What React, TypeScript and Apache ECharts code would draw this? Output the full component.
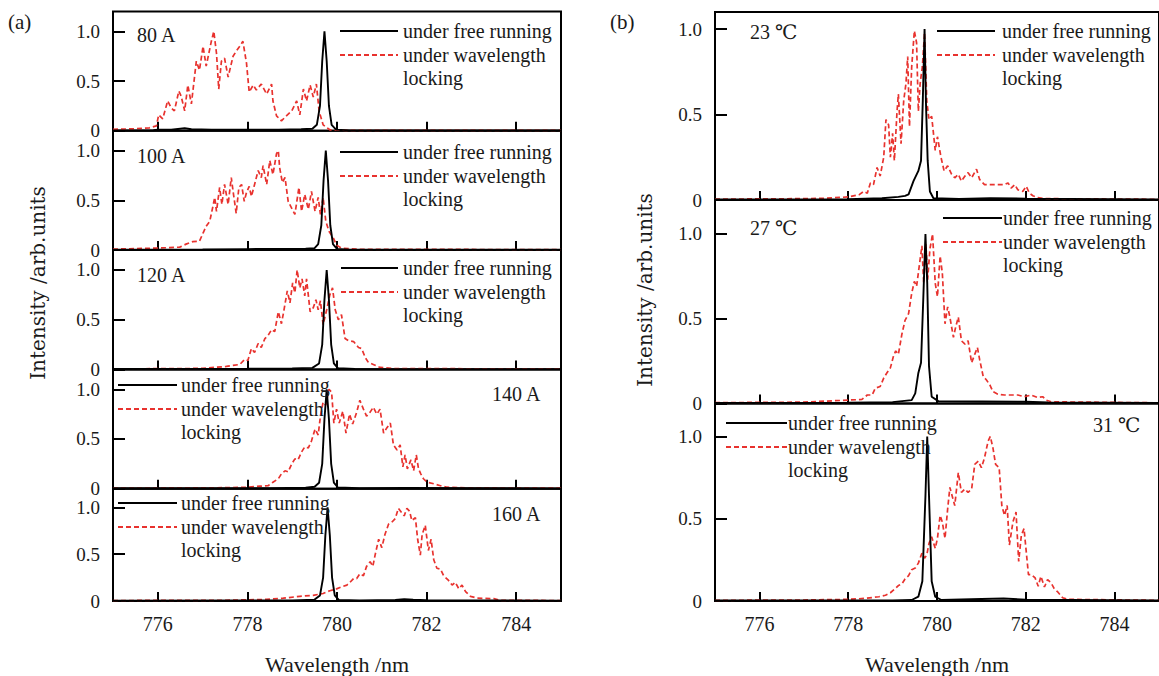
import React, { useEffect, useRef } from "react";
import * as echarts from "echarts";

// ---------- data (wavelength nm, normalised intensity) ----------
const X_TICKS = [776, 778, 780, 782, 784];
const Y_TICKS = [0, 0.5, 1];

const free80A = [[775,0.004],[775.9,0.006],[776.0,0.012],[776.3,0.01],[776.5,0.02],[776.6,0.025],[776.75,0.015],[777.2,0.01],[778.0,0.012],[778.7,0.01],[779.2,0.015],[779.45,0.02],[779.55,0.06],[779.62,0.25],[779.67,0.7],[779.72,1.0],[779.77,0.7],[779.82,0.25],[779.88,0.06],[779.98,0.012],[780.3,0.004],[785,0.003]];
const lock80A = [[775,0.015],[775.5,0.02],[775.81,0.03],[775.97,0.05],[776.02,0.16],[776.11,0.12],[776.22,0.30],[776.30,0.23],[776.37,0.20],[776.47,0.40],[776.52,0.35],[776.60,0.20],[776.67,0.46],[776.75,0.27],[776.86,0.70],[776.93,0.61],[777.01,0.85],[777.08,0.65],[777.19,0.89],[777.25,1.0],[777.31,0.78],[777.36,0.42],[777.42,0.70],[777.49,0.73],[777.57,0.54],[777.68,0.75],[777.75,0.80],[777.83,0.85],[777.90,0.90],[777.98,0.68],[778.04,0.39],[778.13,0.46],[778.20,0.41],[778.31,0.47],[778.43,0.37],[778.54,0.47],[778.57,0.30],[778.65,0.15],[778.76,0.10],[778.87,0.15],[778.99,0.20],[779.10,0.30],[779.17,0.16],[779.25,0.42],[779.32,0.30],[779.40,0.46],[779.47,0.34],[779.54,0.47],[779.60,0.20],[779.69,0.06],[779.84,0.01],[780.2,0.005],[785,0.004]];

const free100A = [[775,0.004],[777,0.006],[778,0.01],[778.6,0.012],[779.3,0.015],[779.5,0.02],[779.58,0.06],[779.65,0.25],[779.7,0.7],[779.75,1.0],[779.8,0.7],[779.85,0.25],[779.91,0.06],[780.0,0.012],[780.3,0.004],[785,0.003]];
const lock100A = [[775,0.01],[776.0,0.02],[776.49,0.03],[776.63,0.06],[776.78,0.085],[776.93,0.09],[777.01,0.17],[777.08,0.24],[777.16,0.29],[777.23,0.44],[777.27,0.53],[777.31,0.39],[777.38,0.63],[777.43,0.46],[777.49,0.66],[777.57,0.46],[777.64,0.73],[777.69,0.56],[777.75,0.37],[777.81,0.63],[777.87,0.66],[777.93,0.49],[777.98,0.58],[778.04,0.64],[778.09,0.54],[778.16,0.66],[778.24,0.80],[778.31,0.73],[778.35,0.85],[778.43,0.66],[778.50,0.90],[778.57,0.76],[778.65,0.97],[778.69,1.0],[778.72,0.83],[778.78,0.68],[778.84,0.73],[778.91,0.49],[778.99,0.42],[779.06,0.36],[779.15,0.63],[779.21,0.39],[779.28,0.56],[779.36,0.41],[779.43,0.59],[779.51,0.39],[779.58,0.53],[779.63,0.36],[779.69,0.53],[779.75,0.29],[779.82,0.19],[779.92,0.12],[779.99,0.05],[780.10,0.02],[780.5,0.008],[785,0.005]];

const free120A = [[775,0.004],[778,0.006],[779,0.01],[779.45,0.015],[779.6,0.06],[779.67,0.25],[779.72,0.7],[779.77,1.0],[779.82,0.7],[779.87,0.25],[779.93,0.06],[780.02,0.012],[780.4,0.004],[785,0.003]];
const lock120A = [[775,0.005],[777.0,0.01],[777.53,0.03],[777.68,0.04],[777.83,0.05],[777.94,0.10],[778.01,0.09],[778.09,0.21],[778.16,0.17],[778.24,0.26],[778.31,0.22],[778.39,0.31],[778.46,0.34],[778.54,0.40],[778.61,0.38],[778.69,0.58],[778.76,0.46],[778.81,0.58],[778.89,0.79],[778.95,0.67],[779.01,0.87],[779.06,0.77],[779.11,1.0],[779.17,0.82],[779.22,0.91],[779.28,0.74],[779.32,0.91],[779.40,0.58],[779.47,0.62],[779.53,0.70],[779.58,0.60],[779.63,0.69],[779.69,0.45],[779.77,0.60],[779.84,0.75],[779.90,0.82],[779.96,0.60],[780.03,0.50],[780.10,0.55],[780.18,0.31],[780.25,0.29],[780.37,0.28],[780.48,0.22],[780.55,0.21],[780.63,0.12],[780.70,0.07],[780.81,0.05],[780.96,0.02],[781.3,0.008],[785,0.005]];

const free140A = [[775,0.004],[778.5,0.006],[779.3,0.01],[779.5,0.02],[779.6,0.06],[779.67,0.25],[779.72,0.7],[779.77,1.0],[779.82,0.7],[779.87,0.25],[779.93,0.06],[780.02,0.012],[780.5,0.006],[781.5,0.008],[785,0.003]];
const lock140A = [[775,0.005],[777.5,0.01],[778.00,0.015],[778.28,0.025],[778.46,0.03],[778.57,0.065],[778.69,0.10],[778.76,0.15],[778.84,0.18],[778.91,0.17],[778.99,0.25],[779.06,0.30],[779.13,0.29],[779.21,0.37],[779.28,0.42],[779.36,0.41],[779.43,0.48],[779.51,0.60],[779.58,0.54],[779.63,0.73],[779.69,0.87],[779.75,0.84],[779.82,1.0],[779.88,0.97],[779.93,0.66],[779.99,0.80],[780.05,0.66],[780.13,0.78],[780.20,0.56],[780.28,0.75],[780.35,0.65],[780.44,0.77],[780.51,0.89],[780.59,0.80],[780.66,0.73],[780.74,0.77],[780.81,0.82],[780.89,0.75],[780.96,0.80],[781.04,0.56],[781.11,0.61],[781.19,0.66],[781.26,0.44],[781.34,0.39],[781.41,0.44],[781.47,0.22],[781.52,0.34],[781.57,0.20],[781.65,0.29],[781.71,0.18],[781.77,0.34],[781.82,0.20],[781.87,0.15],[781.93,0.10],[782.01,0.065],[782.16,0.05],[782.31,0.03],[782.46,0.015],[783,0.008],[785,0.005]];

const free160A = [[775,0.004],[779.0,0.006],[779.5,0.015],[779.62,0.06],[779.69,0.25],[779.74,0.7],[779.79,1.0],[779.84,0.7],[779.89,0.25],[779.95,0.06],[780.04,0.012],[780.5,0.006],[781.3,0.012],[781.5,0.02],[781.7,0.015],[782.0,0.008],[785,0.003]];
const lock160A = [[775,0.005],[777.5,0.008],[778.43,0.017],[778.80,0.03],[779.17,0.05],[779.47,0.06],[779.69,0.08],[779.84,0.11],[779.99,0.13],[780.10,0.15],[780.22,0.17],[780.29,0.20],[780.37,0.24],[780.44,0.24],[780.51,0.29],[780.59,0.27],[780.66,0.37],[780.74,0.42],[780.80,0.37],[780.85,0.49],[780.93,0.66],[781.00,0.57],[781.07,0.71],[781.15,0.82],[781.22,0.84],[781.30,0.88],[781.37,0.99],[781.45,0.94],[781.50,0.91],[781.56,0.99],[781.62,0.96],[781.67,0.86],[781.75,0.89],[781.80,0.66],[781.86,0.49],[781.90,0.71],[781.97,0.81],[782.04,0.54],[782.10,0.66],[782.16,0.44],[782.23,0.35],[782.31,0.34],[782.38,0.27],[782.49,0.22],[782.57,0.17],[782.64,0.20],[782.72,0.13],[782.79,0.17],[782.87,0.10],[782.98,0.05],[783.13,0.03],[783.50,0.025],[783.65,0.007],[785,0.005]];

const free23C = [[775,0.003],[778,0.005],[778.76,0.01],[779.13,0.018],[779.28,0.024],[779.36,0.033],[779.47,0.11],[779.58,0.17],[779.64,0.23],[779.68,0.58],[779.72,1.0],[779.75,0.58],[779.79,0.23],[779.84,0.05],[779.92,0.01],[780.5,0.006],[781.2,0.01],[782,0.008],[785,0.003]];
const lock23C = [[775,0.005],[777.0,0.008],[777.49,0.01],[778.00,0.018],[778.24,0.03],[778.35,0.05],[778.43,0.04],[778.50,0.10],[778.57,0.09],[778.65,0.19],[778.72,0.14],[778.80,0.25],[778.85,0.47],[778.91,0.44],[778.95,0.25],[779.00,0.39],[779.04,0.23],[779.10,0.52],[779.13,0.62],[779.19,0.33],[779.25,0.58],[779.30,0.68],[779.34,0.84],[779.38,0.43],[779.43,0.78],[779.49,0.99],[779.54,0.92],[779.58,0.52],[779.62,0.68],[779.67,0.78],[779.72,0.98],[779.77,0.58],[779.82,0.47],[779.88,0.49],[779.96,0.29],[780.01,0.37],[780.09,0.25],[780.16,0.17],[780.24,0.20],[780.33,0.15],[780.40,0.13],[780.48,0.15],[780.55,0.11],[780.63,0.14],[780.70,0.16],[780.78,0.13],[780.89,0.18],[780.96,0.12],[781.07,0.09],[781.22,0.09],[781.37,0.09],[781.52,0.09],[781.60,0.10],[781.67,0.07],[781.75,0.09],[781.82,0.06],[781.93,0.05],[782.01,0.08],[782.08,0.04],[782.16,0.025],[782.27,0.014],[782.42,0.008],[785,0.004]];

const free27C = [[775,0.003],[778,0.005],[779,0.008],[779.43,0.02],[779.51,0.06],[779.58,0.18],[779.64,0.24],[779.69,0.61],[779.74,1.0],[779.78,0.71],[779.82,0.22],[779.88,0.04],[780.03,0.014],[781,0.012],[782,0.01],[782.5,0.006],[785,0.003]];
const lock27C = [[775,0.005],[777.0,0.008],[778.00,0.02],[778.31,0.024],[778.43,0.05],[778.54,0.05],[778.61,0.09],[778.72,0.10],[778.80,0.15],[778.87,0.18],[778.95,0.21],[779.02,0.28],[779.07,0.31],[779.13,0.29],[779.21,0.41],[779.28,0.49],[779.36,0.53],[779.43,0.65],[779.49,0.72],[779.54,0.69],[779.60,0.81],[779.66,0.93],[779.70,0.71],[779.75,0.94],[779.79,0.73],[779.84,0.91],[779.90,1.0],[779.96,0.71],[780.01,0.63],[780.07,0.87],[780.12,0.77],[780.18,0.47],[780.24,0.57],[780.29,0.51],[780.37,0.39],[780.42,0.45],[780.48,0.51],[780.55,0.37],[780.63,0.35],[780.70,0.37],[780.78,0.24],[780.85,0.29],[780.91,0.33],[780.96,0.26],[781.04,0.16],[781.11,0.14],[781.19,0.11],[781.26,0.07],[781.37,0.055],[781.52,0.05],[781.67,0.05],[781.82,0.05],[781.97,0.04],[782.12,0.05],[782.27,0.035],[782.38,0.04],[782.46,0.02],[782.57,0.01],[785,0.004]];

const free31C = [[775,0.003],[779,0.004],[779.43,0.006],[779.58,0.026],[779.67,0.12],[779.74,0.64],[779.78,1.0],[779.82,0.64],[779.88,0.12],[779.96,0.026],[780.1,0.006],[781,0.012],[781.5,0.015],[782,0.008],[785,0.003]];
const lock31C = [[775,0.004],[777.0,0.006],[778.00,0.01],[778.39,0.016],[778.69,0.026],[778.84,0.035],[778.95,0.05],[779.06,0.075],[779.13,0.094],[779.21,0.104],[779.28,0.134],[779.36,0.154],[779.43,0.19],[779.51,0.20],[779.58,0.23],[779.66,0.29],[779.72,0.26],[779.77,0.28],[779.82,0.35],[779.88,0.39],[779.96,0.32],[780.01,0.38],[780.07,0.52],[780.12,0.48],[780.18,0.38],[780.24,0.56],[780.29,0.69],[780.34,0.64],[780.40,0.58],[780.48,0.78],[780.55,0.66],[780.63,0.68],[780.70,0.66],[780.78,0.68],[780.85,0.83],[780.93,0.85],[781.00,0.81],[781.07,0.87],[781.15,0.97],[781.20,1.0],[781.26,0.93],[781.32,0.83],[781.40,0.81],[781.46,0.58],[781.52,0.52],[781.58,0.58],[781.63,0.34],[781.71,0.48],[781.78,0.54],[781.84,0.24],[781.90,0.40],[781.96,0.44],[782.01,0.30],[782.06,0.16],[782.13,0.16],[782.21,0.14],[782.28,0.09],[782.34,0.15],[782.42,0.085],[782.49,0.13],[782.57,0.11],[782.64,0.075],[782.72,0.055],[782.83,0.02],[782.94,0.01],[785,0.004]];

const LABELS = ["80 A", "100 A", "120 A", "140 A", "160 A", "23 ℃", "27 ℃", "31 ℃"];
const FREE_NAME = "under free running";
const LOCK_NAME = ["under wavelength", "locking"];

// ---------- layout ----------
const FONT = "Liberation Serif, DejaVu Serif, serif";
const FONT_Y = "DejaVu Serif, Liberation Serif, serif";
const RED = "#e8322e";
const INK = "#1a1a1a";

type Sub = {
  left: number; top: number; width: number; height: number; max: number; bottom: boolean;
  free: number[][]; lock: number[][]; label: string;
  labelX: number; labelY: number; legX1: number; legX2: number; legTX: number; legY: number;
};

const SUBS: Sub[] = [
  { left: 113, top: 11.5, width: 448, height: 119.3, max: 1.2, bottom: false, free: free80A, lock: lock80A, label: LABELS[0], labelX: 137, labelY: 35, legX1: 340, legX2: 398, legTX: 403, legY: 31 },
  { left: 113, top: 130.8, width: 448, height: 119.3, max: 1.2, bottom: false, free: free100A, lock: lock100A, label: LABELS[1], labelX: 137, labelY: 156, legX1: 340, legX2: 398, legTX: 403, legY: 152 },
  { left: 113, top: 250.1, width: 448, height: 119.3, max: 1.2, bottom: false, free: free120A, lock: lock120A, label: LABELS[2], labelX: 137, labelY: 275, legX1: 341, legX2: 398, legTX: 403, legY: 268 },
  { left: 113, top: 369.4, width: 448, height: 119.3, max: 1.2, bottom: false, free: free140A, lock: lock140A, label: LABELS[3], labelX: 492, labelY: 394, legX1: 118, legX2: 177, legTX: 181, legY: 385 },
  { left: 113, top: 488.7, width: 448, height: 119.3, max: 1.2, bottom: true, free: free160A, lock: lock160A, label: LABELS[4], labelX: 492, labelY: 514, legX1: 118, legX2: 177, legTX: 181, legY: 503 },
  { left: 715, top: 12, width: 447, height: 188, max: 1.1, bottom: false, free: free23C, lock: lock23C, label: LABELS[5], labelX: 750, labelY: 32, legX1: 937, legX2: 995, legTX: 1002, legY: 31 },
  { left: 715, top: 200, width: 447, height: 203.5, max: 1.2, bottom: false, free: free27C, lock: lock27C, label: LABELS[6], labelX: 750, labelY: 228, legX1: 943, legX2: 1002, legTX: 1003, legY: 218 },
  { left: 715, top: 403.5, width: 447, height: 204.5, max: 1.2, bottom: true, free: free31C, lock: lock31C, label: LABELS[7], labelX: 1093, labelY: 425, legX1: 726, legX2: 787, legTX: 788, legY: 423 },
];

function text(t: string, x: number, y: number, size: number) {
  return {
    type: "text", x, y, silent: true, z: 10,
    style: { text: t, fill: INK, fontSize: size, fontFamily: FONT, align: "left", verticalAlign: "middle" },
  };
}

export default function App() {
  const ref = useRef<HTMLDivElement>(null);
  useEffect(() => {
    if (!ref.current) return;
    const chart = echarts.init(ref.current, null, { renderer: "svg" });

    const grid = SUBS.map((s) => ({
      left: s.left, top: s.top, width: s.width, height: s.height,
      show: true, borderColor: "#000", borderWidth: 2, backgroundColor: "transparent",
    }));
    const xAxis = SUBS.map((s, i) => ({
      type: "value", gridIndex: i, min: 775, max: 785,
      axisLine: { show: false },
      splitLine: { show: false },
      axisTick: { show: true, inside: true, length: 9, customValues: X_TICKS, lineStyle: { color: "#000", width: 2 } },
      axisLabel: { show: s.bottom, customValues: X_TICKS, margin: 13, color: INK, fontSize: 20, fontFamily: FONT },
      name: s.bottom ? "Wavelength /nm" : "",
      nameLocation: "middle", nameGap: 52,
      nameTextStyle: { color: INK, fontSize: 22, fontFamily: FONT },
    }));
    const yAxis = SUBS.map((s, i) => ({
      type: "value", gridIndex: i, min: 0, max: s.max,
      axisLine: { show: false },
      splitLine: { show: false },
      axisTick: { show: true, inside: true, length: 12, customValues: Y_TICKS, lineStyle: { color: "#000", width: 2 } },
      axisLabel: {
        show: true, customValues: Y_TICKS, margin: 13, color: INK, fontSize: 19, lineHeight: 17, fontFamily: FONT,
        formatter: (v: number) => (v === 0 ? "0" : v.toFixed(1)),
      },
    }));
    const series: any[] = [];
    SUBS.forEach((s, i) => {
      series.push({
        type: "line", name: LOCK_NAME.join(" "), xAxisIndex: i, yAxisIndex: i, data: s.lock,
        showSymbol: false, symbol: "none", z: 2,
        lineStyle: { color: RED, width: 1.7, type: [5, 3] },
      });
      series.push({
        type: "line", name: FREE_NAME, xAxisIndex: i, yAxisIndex: i, data: s.free,
        showSymbol: false, symbol: "none", z: 3,
        lineStyle: { color: "#000", width: 1.9 },
      });
    });

    const graphic: any[] = [
      text("(a)", 8, 22, 21),
      text("(b)", 610, 22, 21),
      {
        type: "text", x: 38, y: 283, rotation: Math.PI / 2, silent: true,
        style: { text: "Intensity /arb.units", fill: INK, fontSize: 20, fontFamily: FONT_Y, align: "center", verticalAlign: "middle" },
      },
      {
        type: "text", x: 645, y: 290, rotation: Math.PI / 2, silent: true,
        style: { text: "Intensity /arb.units", fill: INK, fontSize: 20, fontFamily: FONT_Y, align: "center", verticalAlign: "middle" },
      },
    ];
    SUBS.forEach((s) => {
      graphic.push(text(s.label, s.labelX, s.labelY, 20));
      graphic.push({ type: "line", silent: true, z: 10, shape: { x1: s.legX1, y1: s.legY, x2: s.legX2, y2: s.legY }, style: { stroke: "#000", lineWidth: 2 } });
      graphic.push({ type: "line", silent: true, z: 10, shape: { x1: s.legX1, y1: s.legY + 24, x2: s.legX2, y2: s.legY + 24 }, style: { stroke: RED, lineWidth: 2, lineDash: [5, 3] } });
      graphic.push(text(FREE_NAME, s.legTX, s.legY, 20));
      graphic.push(text(LOCK_NAME[0], s.legTX, s.legY + 24, 20));
      graphic.push(text(LOCK_NAME[1], s.legTX, s.legY + 47, 20));
    });

    chart.setOption({
      animation: false,
      backgroundColor: "#fff",
      grid, xAxis, yAxis, series, graphic,
    });
    return () => chart.dispose();
  }, []);
  return <div ref={ref} style={{ position: "fixed", left: 0, top: 0, width: 1159, height: 676 }} />;
}
